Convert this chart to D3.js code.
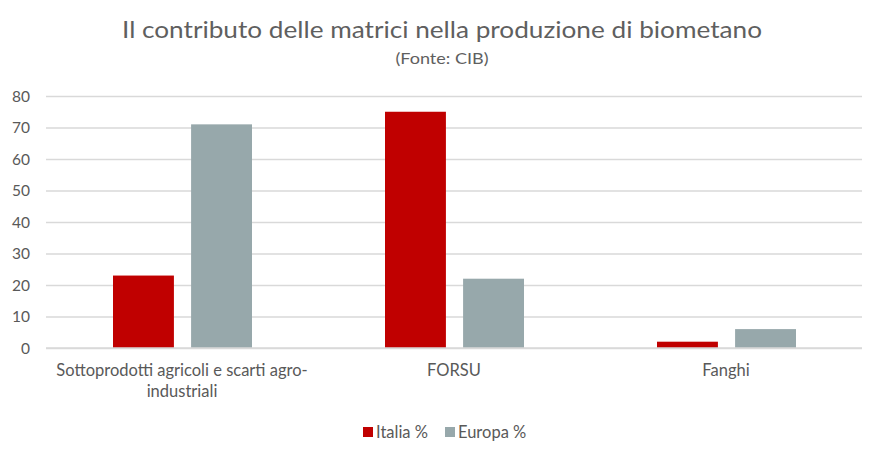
<!DOCTYPE html>
<html><head><meta charset="utf-8">
<script src="https://cdn.jsdelivr.net/npm/d3@7"></script>
<style>body{margin:0;background:#fff;} text{font-family:Lato, "Open Sans", sans-serif;}</style>
</head><body>
<svg id="c" width="880" height="458"></svg>
<script>
const categories = [["Sottoprodotti agricoli e scarti agro-", "industriali"], ["FORSU"], ["Fanghi"]];
const seriesNames = ["Italia %", "Europa %"];
const italia = [23, 75, 2];
const europa = [71, 22, 6];
const yTicks = [0, 10, 20, 30, 40, 50, 60, 70, 80];
const colors = ["#c00000", "#97a8ab"];

const svg = d3.select("#c");
const m = {l: 46, r: 862, t: 96, b: 348};
const x = d3.scaleBand().domain(d3.range(categories.length)).range([m.l, m.r]);
const y = d3.scaleLinear().domain([0, 80]).range([m.b, m.t]);

svg.append("text").attr("x", 442).attr("y", 38).attr("text-anchor", "middle")
  .attr("font-size", 24).attr("font-weight", 400).attr("fill", "#5f5f5f").attr("textLength", 640).attr("lengthAdjust","spacingAndGlyphs")
  .text("Il contributo delle matrici nella produzione di biometano");
svg.append("text").attr("x", 442).attr("y", 64).attr("text-anchor", "middle")
  .attr("font-size", 15).attr("font-weight", 400).attr("fill", "#5f5f5f").attr("textLength", 93).attr("lengthAdjust","spacingAndGlyphs")
  .text("(Fonte: CIB)");

// grid
const ya = d3.axisLeft(y).tickValues(yTicks).tickSize(-(m.r - m.l)).tickPadding(16);
const g = svg.append("g").attr("transform", `translate(${m.l},0)`).call(ya);
g.select(".domain").remove();
g.selectAll(".tick line").attr("stroke", "#d9d9d9").attr("stroke-width", 1.3);
g.selectAll(".tick text").attr("fill", "#595959").attr("font-size", 15.5).attr("dy", "0.35em")
  .style("font-family", "Lato, sans-serif");

const data = categories.map((c, i) => [italia[i], europa[i]]);
const inner = d3.scaleBand().domain([0, 1]).range([67, 206]).paddingInner(0.22);
const grp = svg.append("g").selectAll("g").data(data).join("g")
  .attr("transform", (d, i) => `translate(${x(i)},0)`);
grp.selectAll("rect").data(d => d).join("rect")
  .attr("x", (d, j) => inner(j)).attr("width", inner.bandwidth())
  .attr("y", d => y(d)).attr("height", d => y(0) - y(d))
  .attr("fill", (d, j) => colors[j]);

svg.append("line").attr("x1", m.l).attr("x2", m.r).attr("y1", y(0)).attr("y2", y(0))
  .attr("stroke", "#d9d9d9").attr("stroke-width", 1.3);

// x labels
categories.forEach((lines, i) => {
  const t = svg.append("text").attr("x", x(i) + x.bandwidth() / 2).attr("y", 376)
    .attr("text-anchor", "middle").attr("font-size", 16.5).attr("fill", "#595959");
  lines.forEach((ln, k) => t.append("tspan").attr("x", x(i) + x.bandwidth() / 2).attr("dy", k ? 21 : 0).text(ln));
});

// legend
const leg = [{x: 363, tx: 376}, {x: 445, tx: 458}];
seriesNames.forEach((n, i) => {
  svg.append("rect").attr("x", leg[i].x).attr("y", 427).attr("width", 10).attr("height", 10).attr("fill", colors[i]);
  svg.append("text").attr("x", leg[i].tx).attr("y", 438).attr("font-size", 16.5).attr("fill", "#595959").text(n);
});
</script>
</body></html>
